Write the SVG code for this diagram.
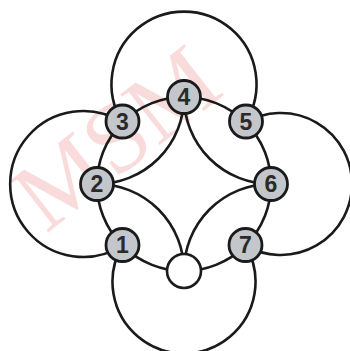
<svg xmlns="http://www.w3.org/2000/svg" width="350" height="351" viewBox="0 0 350 351">
<style>
.ln{fill:none;stroke:#1a1a1a;stroke-width:2.6}
.nd{fill:#c3c6ca;stroke:#1a1a1a;stroke-width:2.8}
.wn{fill:#ffffff;stroke:#1a1a1a;stroke-width:2.6}
.lb{font-family:"Liberation Sans",Arial,sans-serif;font-size:23px;font-weight:bold;fill:#2a2a2a;text-anchor:middle}
.wm{font-family:"Liberation Serif","Times New Roman",serif;font-size:98px;fill:#f7cccc;opacity:0.7}
</style>
<rect width="350" height="351" fill="#ffffff"/>
<text class="wm" transform="translate(46,234) rotate(-38)">MSM</text>
<g id="connectors">
<circle class="ln" cx="184" cy="184" r="87"/>
<path class="ln" d="M122.5 122.5 A72.5 72.5 0 1 1 245.5 122.5"/>
<path class="ln" d="M122.5 122.5 A73 73 0 1 0 122.5 245.5"/>
<path class="ln" d="M245.5 122.5 A71 71 0 1 1 245.5 245.5"/>
<path class="ln" d="M122.5 245.5 A71.5 71.5 0 1 0 245.5 245.5"/>
<path class="ln" d="M184 97 A87 87 0 0 1 97 184"/>
<path class="ln" d="M184 97 A87 87 0 0 0 271 184"/>
<path class="ln" d="M97 184 A87 87 0 0 1 184 271"/>
<path class="ln" d="M271 184 A87 87 0 0 0 184 271"/>
</g>
<g id="n1"><circle class="nd" cx="122.5" cy="245" r="16.5"/><text class="lb" x="122.5" y="253">1</text></g>
<g id="n2"><circle class="nd" cx="97" cy="184" r="16.5"/><text class="lb" x="97" y="192">2</text></g>
<g id="n3"><circle class="nd" cx="122.5" cy="121.5" r="16.5"/><text class="lb" x="122.5" y="129.5">3</text></g>
<g id="n4"><circle class="nd" cx="184" cy="97" r="16.5"/><text class="lb" x="184" y="105">4</text></g>
<g id="n5"><circle class="nd" cx="246" cy="121.5" r="16.5"/><text class="lb" x="246" y="129.5">5</text></g>
<g id="n6"><circle class="nd" cx="271" cy="184" r="16.5"/><text class="lb" x="271" y="192">6</text></g>
<g id="n7"><circle class="nd" cx="245.5" cy="245" r="16.5"/><text class="lb" x="245.5" y="253">7</text></g>
<g id="n8"><circle class="wn" cx="184" cy="271" r="17"/></g>
</svg>
